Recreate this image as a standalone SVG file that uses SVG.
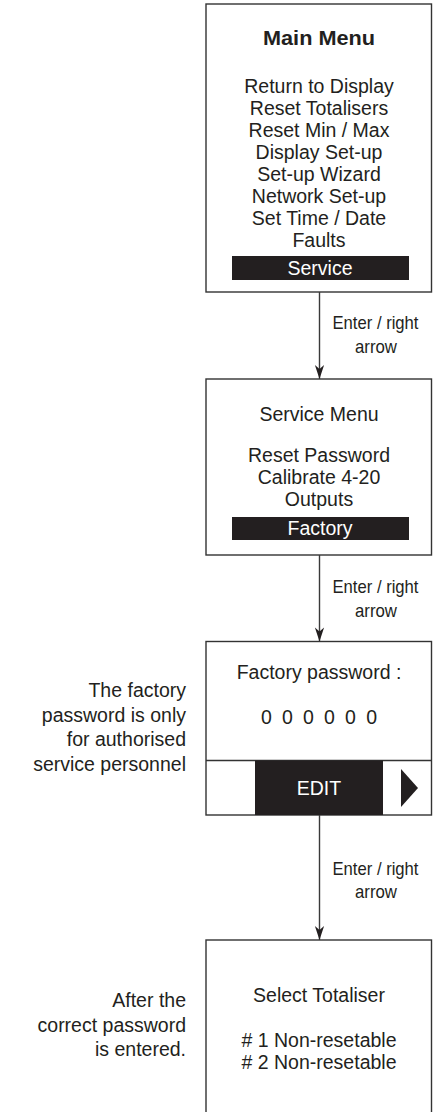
<svg xmlns="http://www.w3.org/2000/svg" width="436" height="1112" viewBox="0 0 436 1112">
<style>
.box{fill:#fff;stroke:#333;stroke-width:1.4}
.bar{fill:#231f20}
.t{font-family:"Liberation Sans",Arial,sans-serif;font-size:19.5px;fill:#231f20;text-anchor:middle}
.tw{font-family:"Liberation Sans",Arial,sans-serif;font-size:19.5px;fill:#fff;text-anchor:middle}
.tb{font-family:"Liberation Sans",Arial,sans-serif;font-size:20px;font-weight:bold;fill:#231f20;text-anchor:middle}
.note{font-family:"Liberation Sans",Arial,sans-serif;font-size:19.5px;fill:#231f20;text-anchor:end}
.lbl{font-family:"Liberation Sans",Arial,sans-serif;font-size:19px;fill:#231f20;text-anchor:middle}
.conn{stroke:#3a3a3a;stroke-width:1.4;fill:none}
</style>
<defs>
<marker id="ah" markerWidth="16" markerHeight="12" viewBox="-15 -6 16 12" refX="0" refY="0" orient="auto" markerUnits="userSpaceOnUse">
<path d="M0,0 L-14,-4.6 L-10,0 L-14,4.6 Z" fill="#231f20"/>
</marker>
</defs>

<g id="node-main-menu">
<rect class="box" x="206" y="4" width="225.5" height="288"/>
<text class="tb" x="319" y="45" textLength="112" lengthAdjust="spacingAndGlyphs">Main Menu</text>
<text class="t" x="319" y="93">Return to Display</text>
<text class="t" x="319" y="115">Reset Totalisers</text>
<text class="t" x="319" y="137">Reset Min / Max</text>
<text class="t" x="319" y="159">Display Set-up</text>
<text class="t" x="319" y="181">Set-up Wizard</text>
<text class="t" x="319" y="203">Network Set-up</text>
<text class="t" x="319" y="225">Set Time / Date</text>
<text class="t" x="319" y="247">Faults</text>
<rect class="bar" x="232" y="256" width="177" height="24"/>
<text class="tw" x="320" y="274.5">Service</text>
</g>

<g id="node-service-menu">
<rect class="box" x="206" y="379" width="225.5" height="176"/>
<text class="t" x="319" y="421">Service Menu</text>
<text class="t" x="319" y="462">Reset Password</text>
<text class="t" x="319" y="484">Calibrate 4-20</text>
<text class="t" x="319" y="505.5">Outputs</text>
<rect class="bar" x="232" y="517" width="177" height="23"/>
<text class="tw" x="320" y="535">Factory</text>
</g>

<g id="node-factory-password">
<rect class="box" x="206" y="641.5" width="225.5" height="173.5"/>
<text class="t" x="319" y="678.5">Factory password :</text>
<text class="t" x="319" y="724" textLength="116" lengthAdjust="spacing">0 0 0 0 0 0</text>
<line x1="206" y1="760.5" x2="431.5" y2="760.5" stroke="#333" stroke-width="1.4"/>
<rect class="bar" x="255" y="760.5" width="128" height="54.5"/>
<text class="tw" x="319" y="795">EDIT</text>
<polygon points="401,769 418,788 401,807" fill="#231f20"/>
</g>

<g id="node-select-totaliser">
<rect class="box" x="206" y="940" width="225.5" height="180"/>
<text class="t" x="319" y="1001.5">Select Totaliser</text>
<text class="t" x="319" y="1047"># 1 Non-resetable</text>
<text class="t" x="319" y="1069"># 2 Non-resetable</text>
</g>

<g id="note-factory-password">
<text class="note" x="186" y="697">The factory</text>
<text class="note" x="186" y="721.5">password is only</text>
<text class="note" x="186" y="746">for authorised</text>
<text class="note" x="186" y="770.5">service personnel</text>
</g>

<g id="note-after-password">
<text class="note" x="186" y="1007">After the</text>
<text class="note" x="186" y="1031.5">correct password</text>
<text class="note" x="186" y="1056">is entered.</text>
</g>

<g id="connectors">
<line class="conn" x1="319.5" y1="292" x2="319.5" y2="379" marker-end="url(#ah)"/>
<text class="lbl" x="375.5" y="329" textLength="86" lengthAdjust="spacingAndGlyphs">Enter / right</text>
<text class="lbl" x="376" y="353" textLength="42" lengthAdjust="spacingAndGlyphs">arrow</text>

<line class="conn" x1="319.5" y1="555" x2="319.5" y2="641.5" marker-end="url(#ah)"/>
<text class="lbl" x="375.5" y="593" textLength="86" lengthAdjust="spacingAndGlyphs">Enter / right</text>
<text class="lbl" x="376" y="617" textLength="42" lengthAdjust="spacingAndGlyphs">arrow</text>

<line class="conn" x1="319.5" y1="815" x2="319.5" y2="940" marker-end="url(#ah)"/>
<text class="lbl" x="375.5" y="875" textLength="86" lengthAdjust="spacingAndGlyphs">Enter / right</text>
<text class="lbl" x="376" y="898" textLength="42" lengthAdjust="spacingAndGlyphs">arrow</text>
</g>
</svg>
